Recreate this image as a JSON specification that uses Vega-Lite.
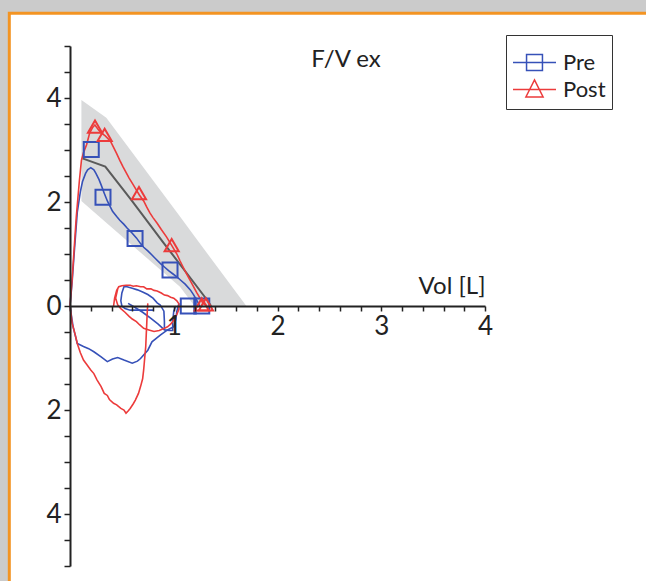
{
  "$schema": "https://vega.github.io/schema/vega-lite/v6.json",
  "width": 415,
  "height": 520,
  "autosize": {"type": "none"},
  "padding": {"left": 70, "top": 46, "right": 161, "bottom": 15},
  "background": "#cbcbcb",
  "config": {
    "view": {"stroke": null},
    "font": "Lato",
    "legend": {
      "orient": "none",
      "legendX": 436,
      "legendY": -11,
      "padding": 6,
      "strokeColor": "#333333",
      "fillColor": "#ffffff",
      "labelFont": "Lato",
      "labelFontSize": 22,
      "labelColor": "#222222",
      "symbolSize": 1849,
      "symbolStrokeWidth": 1.5,
      "clipHeight": 27,
      "rowPadding": 0,
      "labelOffset": 6,
      "symbolOffset": 0,
      "titleFontSize": 8,
      "titlePadding": 0
    }
  },
  "datasets": {
    "curves": [
      {"series": "Pre", "seg": "Pre-exp", "i": 0, "x": 0, "y": 0},
      {"series": "Pre", "seg": "Pre-exp", "i": 1, "x": 0.02, "y": 0.45},
      {"series": "Pre", "seg": "Pre-exp", "i": 2, "x": 0.04, "y": 1.0},
      {"series": "Pre", "seg": "Pre-exp", "i": 3, "x": 0.07, "y": 1.8},
      {"series": "Pre", "seg": "Pre-exp", "i": 4, "x": 0.1, "y": 2.2},
      {"series": "Pre", "seg": "Pre-exp", "i": 5, "x": 0.12, "y": 2.39},
      {"series": "Pre", "seg": "Pre-exp", "i": 6, "x": 0.15, "y": 2.55},
      {"series": "Pre", "seg": "Pre-exp", "i": 7, "x": 0.17, "y": 2.62},
      {"series": "Pre", "seg": "Pre-exp", "i": 8, "x": 0.2, "y": 2.66},
      {"series": "Pre", "seg": "Pre-exp", "i": 9, "x": 0.23, "y": 2.62},
      {"series": "Pre", "seg": "Pre-exp", "i": 10, "x": 0.25, "y": 2.55},
      {"series": "Pre", "seg": "Pre-exp", "i": 11, "x": 0.28, "y": 2.43},
      {"series": "Pre", "seg": "Pre-exp", "i": 12, "x": 0.3, "y": 2.33},
      {"series": "Pre", "seg": "Pre-exp", "i": 13, "x": 0.33, "y": 2.17},
      {"series": "Pre", "seg": "Pre-exp", "i": 14, "x": 0.36, "y": 2.02},
      {"series": "Pre", "seg": "Pre-exp", "i": 15, "x": 0.41, "y": 1.82},
      {"series": "Pre", "seg": "Pre-exp", "i": 16, "x": 0.45, "y": 1.72},
      {"series": "Pre", "seg": "Pre-exp", "i": 17, "x": 0.48, "y": 1.65},
      {"series": "Pre", "seg": "Pre-exp", "i": 18, "x": 0.52, "y": 1.57},
      {"series": "Pre", "seg": "Pre-exp", "i": 19, "x": 0.55, "y": 1.5},
      {"series": "Pre", "seg": "Pre-exp", "i": 20, "x": 0.6, "y": 1.4},
      {"series": "Pre", "seg": "Pre-exp", "i": 21, "x": 0.64, "y": 1.31},
      {"series": "Pre", "seg": "Pre-exp", "i": 22, "x": 0.68, "y": 1.2},
      {"series": "Pre", "seg": "Pre-exp", "i": 23, "x": 0.71, "y": 1.13},
      {"series": "Pre", "seg": "Pre-exp", "i": 24, "x": 0.75, "y": 1.06},
      {"series": "Pre", "seg": "Pre-exp", "i": 25, "x": 0.79, "y": 0.98},
      {"series": "Pre", "seg": "Pre-exp", "i": 26, "x": 0.83, "y": 0.9},
      {"series": "Pre", "seg": "Pre-exp", "i": 27, "x": 0.87, "y": 0.82},
      {"series": "Pre", "seg": "Pre-exp", "i": 28, "x": 0.91, "y": 0.75},
      {"series": "Pre", "seg": "Pre-exp", "i": 29, "x": 0.95, "y": 0.68},
      {"series": "Pre", "seg": "Pre-exp", "i": 30, "x": 0.99, "y": 0.62},
      {"series": "Pre", "seg": "Pre-exp", "i": 31, "x": 1.03, "y": 0.56},
      {"series": "Pre", "seg": "Pre-exp", "i": 32, "x": 1.07, "y": 0.49},
      {"series": "Pre", "seg": "Pre-exp", "i": 33, "x": 1.11, "y": 0.42},
      {"series": "Pre", "seg": "Pre-exp", "i": 34, "x": 1.16, "y": 0.31},
      {"series": "Pre", "seg": "Pre-exp", "i": 35, "x": 1.19, "y": 0.22},
      {"series": "Pre", "seg": "Pre-exp", "i": 36, "x": 1.22, "y": 0.12},
      {"series": "Pre", "seg": "Pre-exp", "i": 37, "x": 1.25, "y": 0.0},

      {"series": "Pre", "seg": "Pre-insp", "i": 0, "x": 0, "y": 0},
      {"series": "Pre", "seg": "Pre-insp", "i": 1, "x": 0.03, "y": -0.4},
      {"series": "Pre", "seg": "Pre-insp", "i": 2, "x": 0.07, "y": -0.72},
      {"series": "Pre", "seg": "Pre-insp", "i": 3, "x": 0.13, "y": -0.78},
      {"series": "Pre", "seg": "Pre-insp", "i": 4, "x": 0.18, "y": -0.82},
      {"series": "Pre", "seg": "Pre-insp", "i": 5, "x": 0.23, "y": -0.88},
      {"series": "Pre", "seg": "Pre-insp", "i": 6, "x": 0.3, "y": -0.98},
      {"series": "Pre", "seg": "Pre-insp", "i": 7, "x": 0.36, "y": -1.07},
      {"series": "Pre", "seg": "Pre-insp", "i": 8, "x": 0.41, "y": -1.02},
      {"series": "Pre", "seg": "Pre-insp", "i": 9, "x": 0.46, "y": -0.99},
      {"series": "Pre", "seg": "Pre-insp", "i": 10, "x": 0.52, "y": -1.04},
      {"series": "Pre", "seg": "Pre-insp", "i": 11, "x": 0.6, "y": -1.1},
      {"series": "Pre", "seg": "Pre-insp", "i": 12, "x": 0.65, "y": -1.06},
      {"series": "Pre", "seg": "Pre-insp", "i": 13, "x": 0.68, "y": -1.01},
      {"series": "Pre", "seg": "Pre-insp", "i": 14, "x": 0.75, "y": -0.85},
      {"series": "Pre", "seg": "Pre-insp", "i": 15, "x": 0.79, "y": -0.69},
      {"series": "Pre", "seg": "Pre-insp", "i": 16, "x": 0.87, "y": -0.56},
      {"series": "Pre", "seg": "Pre-insp", "i": 17, "x": 0.94, "y": -0.46},
      {"series": "Pre", "seg": "Pre-insp", "i": 18, "x": 1.0, "y": -0.4},
      {"series": "Pre", "seg": "Pre-insp", "i": 19, "x": 1.02, "y": -0.25},
      {"series": "Pre", "seg": "Pre-insp", "i": 20, "x": 1.03, "y": -0.1},
      {"series": "Pre", "seg": "Pre-insp", "i": 21, "x": 1.05, "y": 0.05},

      {"series": "Pre", "seg": "Pre-tidal", "i": 0, "x": 0.91, "y": -0.46},
      {"series": "Pre", "seg": "Pre-tidal", "i": 1, "x": 0.91, "y": -0.3},
      {"series": "Pre", "seg": "Pre-tidal", "i": 2, "x": 0.905, "y": -0.1},
      {"series": "Pre", "seg": "Pre-tidal", "i": 3, "x": 0.87, "y": 0.02},
      {"series": "Pre", "seg": "Pre-tidal", "i": 4, "x": 0.84, "y": 0.06},
      {"series": "Pre", "seg": "Pre-tidal", "i": 5, "x": 0.8, "y": 0.15},
      {"series": "Pre", "seg": "Pre-tidal", "i": 6, "x": 0.75, "y": 0.22},
      {"series": "Pre", "seg": "Pre-tidal", "i": 7, "x": 0.7, "y": 0.27},
      {"series": "Pre", "seg": "Pre-tidal", "i": 8, "x": 0.65, "y": 0.31},
      {"series": "Pre", "seg": "Pre-tidal", "i": 9, "x": 0.6, "y": 0.34},
      {"series": "Pre", "seg": "Pre-tidal", "i": 10, "x": 0.55, "y": 0.37},
      {"series": "Pre", "seg": "Pre-tidal", "i": 11, "x": 0.52, "y": 0.37},
      {"series": "Pre", "seg": "Pre-tidal", "i": 12, "x": 0.5, "y": 0.25},
      {"series": "Pre", "seg": "Pre-tidal", "i": 13, "x": 0.49, "y": 0.1},
      {"series": "Pre", "seg": "Pre-tidal", "i": 14, "x": 0.5, "y": 0.0},
      {"series": "Pre", "seg": "Pre-tidal", "i": 15, "x": 0.53, "y": -0.05},
      {"series": "Pre", "seg": "Pre-tidal", "i": 16, "x": 0.58, "y": -0.08},
      {"series": "Pre", "seg": "Pre-tidal", "i": 17, "x": 0.65, "y": -0.08},
      {"series": "Pre", "seg": "Pre-tidal", "i": 18, "x": 0.72, "y": -0.08},
      {"series": "Pre", "seg": "Pre-tidal", "i": 19, "x": 0.81, "y": -0.08},

      {"series": "Pre", "seg": "Pre-tidal2", "i": 0, "x": 0.56, "y": 0.05},
      {"series": "Pre", "seg": "Pre-tidal2", "i": 1, "x": 0.62, "y": -0.02},
      {"series": "Pre", "seg": "Pre-tidal2", "i": 2, "x": 0.7, "y": -0.12},
      {"series": "Pre", "seg": "Pre-tidal2", "i": 3, "x": 0.78, "y": -0.24},
      {"series": "Pre", "seg": "Pre-tidal2", "i": 4, "x": 0.85, "y": -0.35},
      {"series": "Pre", "seg": "Pre-tidal2", "i": 5, "x": 0.91, "y": -0.46},
      {"series": "Pre", "seg": "Pre-tidal2", "i": 6, "x": 0.96, "y": -0.47},
      {"series": "Pre", "seg": "Pre-tidal2", "i": 7, "x": 0.99, "y": -0.47},
      {"series": "Pre", "seg": "Pre-tidal2", "i": 8, "x": 0.99, "y": -0.3},
      {"series": "Pre", "seg": "Pre-tidal2", "i": 9, "x": 1.0, "y": -0.1},
      {"series": "Pre", "seg": "Pre-tidal2", "i": 10, "x": 1.02, "y": 0.0},

      {"series": "Post", "seg": "Post-exp", "i": 0, "x": 0, "y": 0},
      {"series": "Post", "seg": "Post-exp", "i": 1, "x": 0.02, "y": 0.5},
      {"series": "Post", "seg": "Post-exp", "i": 2, "x": 0.04, "y": 1.1},
      {"series": "Post", "seg": "Post-exp", "i": 3, "x": 0.06, "y": 1.7},
      {"series": "Post", "seg": "Post-exp", "i": 4, "x": 0.09, "y": 2.4},
      {"series": "Post", "seg": "Post-exp", "i": 5, "x": 0.11, "y": 2.8},
      {"series": "Post", "seg": "Post-exp", "i": 6, "x": 0.13, "y": 2.95},
      {"series": "Post", "seg": "Post-exp", "i": 7, "x": 0.16, "y": 3.1},
      {"series": "Post", "seg": "Post-exp", "i": 8, "x": 0.19, "y": 3.33},
      {"series": "Post", "seg": "Post-exp", "i": 9, "x": 0.22, "y": 3.44},
      {"series": "Post", "seg": "Post-exp", "i": 10, "x": 0.24, "y": 3.48},
      {"series": "Post", "seg": "Post-exp", "i": 11, "x": 0.27, "y": 3.4},
      {"series": "Post", "seg": "Post-exp", "i": 12, "x": 0.3, "y": 3.33},
      {"series": "Post", "seg": "Post-exp", "i": 13, "x": 0.34, "y": 3.27},
      {"series": "Post", "seg": "Post-exp", "i": 14, "x": 0.39, "y": 3.17},
      {"series": "Post", "seg": "Post-exp", "i": 15, "x": 0.42, "y": 3.05},
      {"series": "Post", "seg": "Post-exp", "i": 16, "x": 0.45, "y": 2.93},
      {"series": "Post", "seg": "Post-exp", "i": 17, "x": 0.48, "y": 2.8},
      {"series": "Post", "seg": "Post-exp", "i": 18, "x": 0.51, "y": 2.68},
      {"series": "Post", "seg": "Post-exp", "i": 19, "x": 0.54, "y": 2.57},
      {"series": "Post", "seg": "Post-exp", "i": 20, "x": 0.57, "y": 2.46},
      {"series": "Post", "seg": "Post-exp", "i": 21, "x": 0.61, "y": 2.33},
      {"series": "Post", "seg": "Post-exp", "i": 22, "x": 0.64, "y": 2.23},
      {"series": "Post", "seg": "Post-exp", "i": 23, "x": 0.67, "y": 2.13},
      {"series": "Post", "seg": "Post-exp", "i": 24, "x": 0.71, "y": 2.02},
      {"series": "Post", "seg": "Post-exp", "i": 25, "x": 0.74, "y": 1.9},
      {"series": "Post", "seg": "Post-exp", "i": 26, "x": 0.77, "y": 1.79},
      {"series": "Post", "seg": "Post-exp", "i": 27, "x": 0.8, "y": 1.7},
      {"series": "Post", "seg": "Post-exp", "i": 28, "x": 0.84, "y": 1.59},
      {"series": "Post", "seg": "Post-exp", "i": 29, "x": 0.88, "y": 1.47},
      {"series": "Post", "seg": "Post-exp", "i": 30, "x": 0.93, "y": 1.33},
      {"series": "Post", "seg": "Post-exp", "i": 31, "x": 0.97, "y": 1.2},
      {"series": "Post", "seg": "Post-exp", "i": 32, "x": 1.0, "y": 1.1},
      {"series": "Post", "seg": "Post-exp", "i": 33, "x": 1.03, "y": 1.0},
      {"series": "Post", "seg": "Post-exp", "i": 34, "x": 1.06, "y": 0.87},
      {"series": "Post", "seg": "Post-exp", "i": 35, "x": 1.09, "y": 0.75},
      {"series": "Post", "seg": "Post-exp", "i": 36, "x": 1.12, "y": 0.63},
      {"series": "Post", "seg": "Post-exp", "i": 37, "x": 1.15, "y": 0.52},
      {"series": "Post", "seg": "Post-exp", "i": 38, "x": 1.18, "y": 0.41},
      {"series": "Post", "seg": "Post-exp", "i": 39, "x": 1.22, "y": 0.26},
      {"series": "Post", "seg": "Post-exp", "i": 40, "x": 1.25, "y": 0.16},
      {"series": "Post", "seg": "Post-exp", "i": 41, "x": 1.28, "y": 0.06},
      {"series": "Post", "seg": "Post-exp", "i": 42, "x": 1.32, "y": 0.0},

      {"series": "Post", "seg": "Post-insp", "i": 0, "x": 0, "y": 0},
      {"series": "Post", "seg": "Post-insp", "i": 1, "x": 0.01, "y": -0.15},
      {"series": "Post", "seg": "Post-insp", "i": 2, "x": 0.02, "y": -0.33},
      {"series": "Post", "seg": "Post-insp", "i": 3, "x": 0.05, "y": -0.55},
      {"series": "Post", "seg": "Post-insp", "i": 4, "x": 0.07, "y": -0.72},
      {"series": "Post", "seg": "Post-insp", "i": 5, "x": 0.1, "y": -0.9},
      {"series": "Post", "seg": "Post-insp", "i": 6, "x": 0.13, "y": -1.04},
      {"series": "Post", "seg": "Post-insp", "i": 7, "x": 0.16, "y": -1.12},
      {"series": "Post", "seg": "Post-insp", "i": 8, "x": 0.2, "y": -1.23},
      {"series": "Post", "seg": "Post-insp", "i": 9, "x": 0.23, "y": -1.3},
      {"series": "Post", "seg": "Post-insp", "i": 10, "x": 0.26, "y": -1.42},
      {"series": "Post", "seg": "Post-insp", "i": 11, "x": 0.3, "y": -1.55},
      {"series": "Post", "seg": "Post-insp", "i": 12, "x": 0.33, "y": -1.68},
      {"series": "Post", "seg": "Post-insp", "i": 13, "x": 0.36, "y": -1.72},
      {"series": "Post", "seg": "Post-insp", "i": 14, "x": 0.38, "y": -1.8},
      {"series": "Post", "seg": "Post-insp", "i": 15, "x": 0.42, "y": -1.87},
      {"series": "Post", "seg": "Post-insp", "i": 16, "x": 0.45, "y": -1.9},
      {"series": "Post", "seg": "Post-insp", "i": 17, "x": 0.49, "y": -1.97},
      {"series": "Post", "seg": "Post-insp", "i": 18, "x": 0.52, "y": -2.0},
      {"series": "Post", "seg": "Post-insp", "i": 19, "x": 0.54, "y": -2.06},
      {"series": "Post", "seg": "Post-insp", "i": 20, "x": 0.56, "y": -2.02},
      {"series": "Post", "seg": "Post-insp", "i": 21, "x": 0.58, "y": -1.97},
      {"series": "Post", "seg": "Post-insp", "i": 22, "x": 0.61, "y": -1.88},
      {"series": "Post", "seg": "Post-insp", "i": 23, "x": 0.63, "y": -1.81},
      {"series": "Post", "seg": "Post-insp", "i": 24, "x": 0.66, "y": -1.68},
      {"series": "Post", "seg": "Post-insp", "i": 25, "x": 0.68, "y": -1.55},
      {"series": "Post", "seg": "Post-insp", "i": 26, "x": 0.7, "y": -1.4},
      {"series": "Post", "seg": "Post-insp", "i": 27, "x": 0.71, "y": -1.23},
      {"series": "Post", "seg": "Post-insp", "i": 28, "x": 0.72, "y": -1.0},
      {"series": "Post", "seg": "Post-insp", "i": 29, "x": 0.73, "y": -0.78},
      {"series": "Post", "seg": "Post-insp", "i": 30, "x": 0.735, "y": -0.55},
      {"series": "Post", "seg": "Post-insp", "i": 31, "x": 0.74, "y": -0.33},
      {"series": "Post", "seg": "Post-insp", "i": 32, "x": 0.745, "y": -0.1},
      {"series": "Post", "seg": "Post-insp", "i": 33, "x": 0.75, "y": 0.05},

      {"series": "Post", "seg": "Post-tidal", "i": 0, "x": 0.42, "y": 0.0},
      {"series": "Post", "seg": "Post-tidal", "i": 1, "x": 0.43, "y": 0.15},
      {"series": "Post", "seg": "Post-tidal", "i": 2, "x": 0.45, "y": 0.3},
      {"series": "Post", "seg": "Post-tidal", "i": 3, "x": 0.47, "y": 0.37},
      {"series": "Post", "seg": "Post-tidal", "i": 4, "x": 0.5, "y": 0.39},
      {"series": "Post", "seg": "Post-tidal", "i": 5, "x": 0.54, "y": 0.4},
      {"series": "Post", "seg": "Post-tidal", "i": 6, "x": 0.58, "y": 0.4},
      {"series": "Post", "seg": "Post-tidal", "i": 7, "x": 0.61, "y": 0.38},
      {"series": "Post", "seg": "Post-tidal", "i": 8, "x": 0.64, "y": 0.39},
      {"series": "Post", "seg": "Post-tidal", "i": 9, "x": 0.68, "y": 0.37},
      {"series": "Post", "seg": "Post-tidal", "i": 10, "x": 0.71, "y": 0.37},
      {"series": "Post", "seg": "Post-tidal", "i": 11, "x": 0.74, "y": 0.33},
      {"series": "Post", "seg": "Post-tidal", "i": 12, "x": 0.78, "y": 0.33},
      {"series": "Post", "seg": "Post-tidal", "i": 13, "x": 0.81, "y": 0.3},
      {"series": "Post", "seg": "Post-tidal", "i": 14, "x": 0.84, "y": 0.29},
      {"series": "Post", "seg": "Post-tidal", "i": 15, "x": 0.88, "y": 0.25},
      {"series": "Post", "seg": "Post-tidal", "i": 16, "x": 0.91, "y": 0.21},
      {"series": "Post", "seg": "Post-tidal", "i": 17, "x": 0.94, "y": 0.2},
      {"series": "Post", "seg": "Post-tidal", "i": 18, "x": 0.97, "y": 0.17},
      {"series": "Post", "seg": "Post-tidal", "i": 19, "x": 1.0, "y": 0.15},
      {"series": "Post", "seg": "Post-tidal", "i": 20, "x": 1.03, "y": 0.1},
      {"series": "Post", "seg": "Post-tidal", "i": 21, "x": 1.05, "y": 0.04},
      {"series": "Post", "seg": "Post-tidal", "i": 22, "x": 1.05, "y": -0.06},
      {"series": "Post", "seg": "Post-tidal", "i": 23, "x": 1.03, "y": -0.16},
      {"series": "Post", "seg": "Post-tidal", "i": 24, "x": 1.0, "y": -0.27},
      {"series": "Post", "seg": "Post-tidal", "i": 25, "x": 0.97, "y": -0.35},
      {"series": "Post", "seg": "Post-tidal", "i": 26, "x": 0.94, "y": -0.4},
      {"series": "Post", "seg": "Post-tidal", "i": 27, "x": 0.91, "y": -0.43},
      {"series": "Post", "seg": "Post-tidal", "i": 28, "x": 0.86, "y": -0.47},
      {"series": "Post", "seg": "Post-tidal", "i": 29, "x": 0.81, "y": -0.49},
      {"series": "Post", "seg": "Post-tidal", "i": 30, "x": 0.76, "y": -0.46},
      {"series": "Post", "seg": "Post-tidal", "i": 31, "x": 0.71, "y": -0.43},
      {"series": "Post", "seg": "Post-tidal", "i": 32, "x": 0.67, "y": -0.36},
      {"series": "Post", "seg": "Post-tidal", "i": 33, "x": 0.64, "y": -0.3},
      {"series": "Post", "seg": "Post-tidal", "i": 34, "x": 0.6, "y": -0.25},
      {"series": "Post", "seg": "Post-tidal", "i": 35, "x": 0.57, "y": -0.2},
      {"series": "Post", "seg": "Post-tidal", "i": 36, "x": 0.53, "y": -0.12},
      {"series": "Post", "seg": "Post-tidal", "i": 37, "x": 0.49, "y": -0.05},
      {"series": "Post", "seg": "Post-tidal", "i": 38, "x": 0.46, "y": 0.02},
      {"series": "Post", "seg": "Post-tidal", "i": 39, "x": 0.44, "y": 0.15},
      {"series": "Post", "seg": "Post-tidal", "i": 40, "x": 0.46, "y": 0.33}
    ],
    "band": [
      {"x": 0.11, "y": 3.96, "lo": 2.02},
      {"x": 0.35, "y": 3.62, "lo": 1.6},
      {"x": 1.06, "y": 1.72, "lo": 0.37},
      {"x": 1.2, "y": 1.34, "lo": 0.0},
      {"x": 1.7, "y": 0.0, "lo": 0.0}
    ],
    "mean": [
      {"x": 0.12, "y": 2.84},
      {"x": 0.34, "y": 2.68},
      {"x": 0.59, "y": 2.04},
      {"x": 0.9, "y": 1.22},
      {"x": 1.32, "y": 0.12},
      {"x": 1.36, "y": 0.0}
    ],
    "markers": [
      {"series": "Pre", "x": 0.205, "y": 3.01},
      {"series": "Pre", "x": 0.318, "y": 2.09},
      {"series": "Pre", "x": 0.627, "y": 1.3},
      {"series": "Pre", "x": 0.964, "y": 0.69},
      {"series": "Pre", "x": 1.14, "y": 0.0},
      {"series": "Pre", "x": 1.27, "y": 0.0},
      {"series": "Post", "x": 0.241, "y": 3.45},
      {"series": "Post", "x": 0.334, "y": 3.29},
      {"series": "Post", "x": 0.665, "y": 2.17},
      {"series": "Post", "x": 0.98, "y": 1.17},
      {"series": "Post", "x": 1.27, "y": 0.03},
      {"series": "Post", "x": 1.31, "y": 0.03}
    ]
  },
  "layer": [
    {
      "data": {"values": [{}]},
      "mark": {"type": "rect", "fill": "#ffffff", "stroke": "#f39423", "strokeWidth": 3},
      "encoding": {
        "x": {"datum": -0.585, "type": "quantitative", "scale": {"domain": [0, 4], "nice": false, "zero": false}},
        "x2": {"datum": 6},
        "y": {"datum": 5.63, "type": "quantitative", "scale": {"domain": [-5, 5], "nice": false, "zero": false}},
        "y2": {"datum": -6}
      }
    },
    {
      "data": {"name": "band"},
      "mark": {"type": "area", "color": "#d9dadb", "opacity": 1},
      "encoding": {
        "x": {
          "field": "x",
          "type": "quantitative",
          "scale": {"domain": [0, 4], "nice": false, "zero": false},
          "axis": {
            "orient": "bottom",
            "offset": -260,
            "values": [0, 0.2, 0.4, 0.6, 0.8, 1, 1.2, 1.4, 1.6, 1.8, 2, 2.2, 2.4, 2.6, 2.8, 3, 3.2, 3.4, 3.6, 3.8, 4],
            "tickCount": 100,
            "labelExpr": "datum.value >= 0.99 && abs(datum.value - round(datum.value)) < 0.01 ? format(round(datum.value), 'd') : ''",
            "title": "Vol [L]",
            "titleX": 415,
            "titleY": -8,
            "titleAlign": "right",
            "titleBaseline": "bottom",
            "titleAngle": 0,
            "titleFont": "Lato",
            "titleFontSize": 24,
            "titleFontWeight": "normal",
            "titleColor": "#222222",
            "labelFont": "Lato",
            "labelFontSize": 26,
            "labelColor": "#222222",
            "labelPadding": 2,
            "tickSize": 5,
            "tickWidth": 1.5,
            "tickColor": "#222222",
            "domainColor": "#222222",
            "domainWidth": 2,
            "grid": false,
            "labelOverlap": false,
            "labelFlush": false,
            "labelBound": false,
            "zindex": 1
          }
        },
        "y": {
          "field": "y",
          "type": "quantitative",
          "scale": {"domain": [-5, 5], "nice": false, "zero": false},
          "axis": {
            "orient": "left",
            "values": [-5, -4.5, -4, -3.5, -3, -2.5, -2, -1.5, -1, -0.5, 0, 0.5, 1, 1.5, 2, 2.5, 3, 3.5, 4, 4.5, 5],
            "tickCount": 100,
            "labelExpr": "datum.value % 2 === 0 ? format(abs(datum.value), 'd') : ''",
            "title": null,
            "labelFont": "Lato",
            "labelFontSize": 26,
            "labelColor": "#222222",
            "labelPadding": 3,
            "tickSize": 6,
            "tickWidth": 1.5,
            "tickColor": "#222222",
            "domainColor": "#222222",
            "domainWidth": 2,
            "grid": false,
            "labelOverlap": false,
            "labelFlush": false,
            "labelBound": false,
            "zindex": 1
          }
        },
        "y2": {"field": "lo"}
      }
    },
    {
      "data": {"name": "mean"},
      "mark": {"type": "line", "color": "#5a5a5a", "strokeWidth": 2},
      "encoding": {
        "x": {"field": "x", "type": "quantitative"},
        "y": {"field": "y", "type": "quantitative"}
      }
    },
    {
      "data": {"name": "curves"},
      "transform": [{"filter": "datum.series === 'Pre'"}],
      "mark": {"type": "line", "color": "#3651b8", "strokeWidth": 1.6},
      "encoding": {
        "x": {"field": "x", "type": "quantitative"},
        "y": {"field": "y", "type": "quantitative"},
        "detail": {"field": "seg", "type": "nominal"},
        "order": {"field": "i", "type": "quantitative"}
      }
    },
    {
      "data": {"name": "curves"},
      "transform": [{"filter": "datum.series === 'Post'"}],
      "mark": {"type": "line", "color": "#ec3b3b", "strokeWidth": 1.6},
      "encoding": {
        "x": {"field": "x", "type": "quantitative"},
        "y": {"field": "y", "type": "quantitative"},
        "detail": {"field": "seg", "type": "nominal"},
        "order": {"field": "i", "type": "quantitative"}
      }
    },
    {
      "data": {"name": "markers"},
      "transform": [{"filter": "datum.series === 'Pre'"}],
      "mark": {"type": "point", "shape": "square", "filled": false, "color": "#3651b8", "strokeWidth": 2, "size": 225, "opacity": 1},
      "encoding": {
        "x": {"field": "x", "type": "quantitative"},
        "y": {"field": "y", "type": "quantitative"}
      }
    },
    {
      "data": {"name": "markers"},
      "transform": [{"filter": "datum.series === 'Post'"}],
      "mark": {"type": "point", "shape": "triangle-up", "filled": false, "color": "#ec3b3b", "strokeWidth": 2, "size": 200, "opacity": 1},
      "encoding": {
        "x": {"field": "x", "type": "quantitative"},
        "y": {"field": "y", "type": "quantitative"}
      }
    },
    {
      "data": {"values": [{}]},
      "mark": {"type": "text", "text": "F/V ex", "font": "Lato", "fontSize": 24, "color": "#222222"},
      "encoding": {
        "x": {"datum": 2.66, "type": "quantitative"},
        "y": {"datum": 4.73, "type": "quantitative"}
      }
    },
    {
      "data": {"values": [{"series": "Pre"}, {"series": "Post"}]},
      "transform": [{"filter": "false"}],
      "mark": {"type": "point", "filled": false, "strokeWidth": 1.5, "opacity": 1},
      "encoding": {
        "x": {"field": "x", "type": "quantitative"},
        "y": {"field": "y", "type": "quantitative"},
        "color": {
          "field": "series",
          "type": "nominal",
          "scale": {"domain": ["Pre", "Post"], "range": ["#3651b8", "#ec3b3b"]},
          "legend": {"title": " "}
        },
        "shape": {
          "field": "series",
          "type": "nominal",
          "scale": {"domain": ["Pre", "Post"], "range": ["M-1,0H1M-0.37,-0.37H0.37V0.37H-0.37Z", "M-1,0H1M0,-0.45L0.4,0.35H-0.4Z"]},
          "legend": {"title": " "}
        }
      }
    }
  ]
}
